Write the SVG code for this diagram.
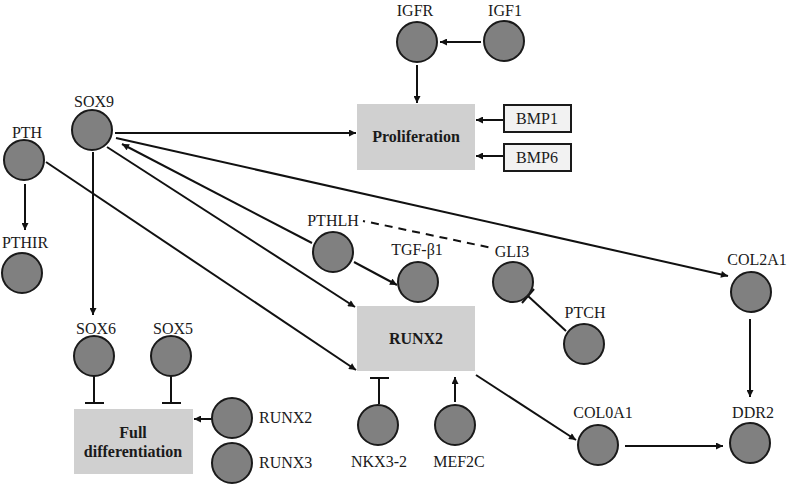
<svg xmlns="http://www.w3.org/2000/svg" width="793" height="484" viewBox="0 0 793 484">
<style>
.n{fill:#808080;stroke:#1a1a1a;stroke-width:2}
.t{font-family:"Liberation Serif","Times New Roman",Times,serif;font-size:16px;fill:#1a1a1a}
.b{font-weight:bold}
.c{text-anchor:middle}
.e{stroke:#111;stroke-width:2;fill:none}
.a{marker-end:url(#ah)}
.box{fill:#d0d0d0}
.bmp{fill:#f2f2f2;stroke:#1a1a1a;stroke-width:2}
</style>
<defs>
<marker id="ah" viewBox="0 0 8 8" refX="8" refY="4" markerWidth="8" markerHeight="7" markerUnits="userSpaceOnUse" orient="auto">
<path d="M0,0 L8,4 L0,8 z" fill="#111"/>
</marker>
</defs>
<g id="connectors">
<line class="e a" x1="481" y1="42" x2="440" y2="42"/>
<line class="e a" x1="417" y1="65" x2="417" y2="103"/>
<line class="e a" x1="503" y1="120" x2="476" y2="120"/>
<line class="e a" x1="503" y1="156" x2="476" y2="156"/>
<line class="e a" x1="115" y1="133" x2="356" y2="133"/>
<line class="e a" x1="116" y1="138" x2="728" y2="276"/>
<line class="e a" x1="107" y1="147" x2="355" y2="307"/>
<line class="e a" x1="312" y1="243" x2="122" y2="144"/>
<line class="e a" x1="46" y1="162" x2="356" y2="370"/>
<line class="e a" x1="25" y1="184" x2="25" y2="230"/>
<line class="e a" x1="93" y1="152" x2="93" y2="315"/>
<line class="e a" x1="354" y1="262" x2="397" y2="285"/>
<line class="e a" x1="213" y1="419" x2="194" y2="419"/>
<line class="e a" x1="750" y1="319" x2="750" y2="397"/>
<line class="e a" x1="625" y1="446" x2="723" y2="446"/>
<line class="e a" x1="476" y1="375" x2="576" y2="440"/>
<line class="e a" x1="455" y1="402" x2="455" y2="377"/>
<line class="e" x1="94" y1="376" x2="94" y2="403"/>
<line class="e" x1="85" y1="403" x2="104" y2="403"/>
<line class="e" x1="171" y1="376" x2="171" y2="403"/>
<line class="e" x1="162" y1="403" x2="181" y2="403"/>
<line class="e" x1="379" y1="404" x2="379" y2="378"/>
<line class="e" x1="370" y1="378" x2="389" y2="378"/>
<line class="e" x1="566" y1="331" x2="528" y2="296"/>
<line class="e" x1="522" y1="303" x2="534" y2="289"/>
<line class="e" x1="363" y1="221" x2="365" y2="221.4" stroke-width="1.5"/>
<line class="e" x1="371" y1="222.5" x2="492" y2="248" stroke-dasharray="8,6"/>
</g>
<g id="proliferation"><rect class="box" x="357" y="104" width="118" height="66"/><text class="t b c" x="416" y="142">Proliferation</text></g>
<g id="runx2box"><rect class="box" x="357" y="306" width="118" height="65"/><text class="t b c" x="416" y="344">RUNX2</text></g>
<g id="fulldiff"><rect class="box" x="74" y="409" width="119" height="65"/><text class="t b c" x="133" y="438">Full</text><text class="t b c" x="133" y="457">differentiation</text></g>
<g id="bmp1"><rect class="bmp" x="504" y="105" width="67" height="27"/><text class="t c" x="537" y="124">BMP1</text></g>
<g id="bmp6"><rect class="bmp" x="504" y="144" width="67" height="27"/><text class="t c" x="537" y="163">BMP6</text></g>
<g id="igfr"><circle class="n" cx="417" cy="42" r="20"/><text class="t c" x="415" y="16">IGFR</text></g>
<g id="igf1"><circle class="n" cx="504" cy="41" r="20"/><text class="t c" x="505" y="16">IGF1</text></g>
<g id="sox9"><circle class="n" cx="92" cy="130" r="20"/><text class="t c" x="94" y="107">SOX9</text></g>
<g id="pth"><circle class="n" cx="24" cy="160" r="20"/><text class="t c" x="27" y="138">PTH</text></g>
<g id="pthir"><circle class="n" cx="22" cy="273" r="20"/><text class="t c" x="25" y="248">PTHIR</text></g>
<g id="pthlh"><circle class="n" cx="333" cy="252" r="20"/><text class="t c" x="333" y="226">PTHLH</text></g>
<g id="tgfb1"><circle class="n" cx="418" cy="282" r="20"/><text class="t c" x="417" y="255">TGF-β1</text></g>
<g id="gli3"><circle class="n" cx="513" cy="282" r="20"/><text class="t c" x="512" y="257">GLI3</text></g>
<g id="ptch"><circle class="n" cx="584" cy="344" r="20"/><text class="t c" x="585" y="318">PTCH</text></g>
<g id="col2a1"><circle class="n" cx="751" cy="292" r="20"/><text class="t c" x="757" y="265">COL2A1</text></g>
<g id="ddr2"><circle class="n" cx="750" cy="443" r="20"/><text class="t c" x="753" y="418">DDR2</text></g>
<g id="col0a1"><circle class="n" cx="598" cy="445" r="20"/><text class="t c" x="603" y="418">COL0A1</text></g>
<g id="sox6"><circle class="n" cx="94" cy="356" r="20"/><text class="t c" x="96" y="334">SOX6</text></g>
<g id="sox5"><circle class="n" cx="171" cy="356" r="20"/><text class="t c" x="173" y="334">SOX5</text></g>
<g id="runx2"><circle class="n" cx="232" cy="418" r="20"/><text class="t" x="259" y="423">RUNX2</text></g>
<g id="runx3"><circle class="n" cx="232" cy="463" r="20"/><text class="t" x="259" y="468">RUNX3</text></g>
<g id="nkx32"><circle class="n" cx="378" cy="425" r="20"/><text class="t c" x="379" y="467">NKX3-2</text></g>
<g id="mef2c"><circle class="n" cx="455" cy="425" r="20"/><text class="t c" x="459" y="467">MEF2C</text></g>
</svg>
